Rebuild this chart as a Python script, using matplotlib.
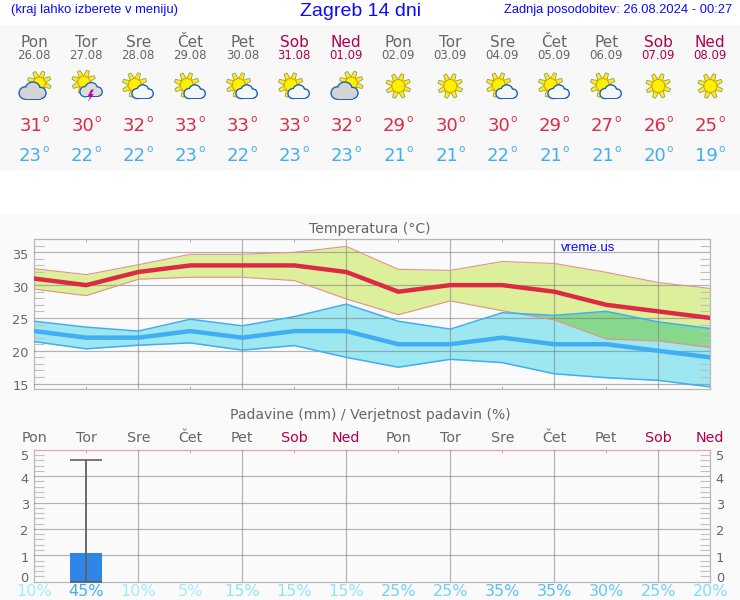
import matplotlib
matplotlib.use("Agg")
import matplotlib.pyplot as plt
import matplotlib.patches as mp
import matplotlib.transforms as mt
import numpy as np

days = ["Pon", "Tor", "Sre", "Čet", "Pet", "Sob", "Ned", "Pon", "Tor", "Sre", "Čet", "Pet", "Sob", "Ned"]
dates = ["26.08", "27.08", "28.08", "29.08", "30.08", "31.08", "01.09", "02.09", "03.09", "04.09", "05.09", "06.09", "07.09", "08.09"]
icons = ["pc", "st", "sc", "sc", "sc", "sc", "pc", "s", "s", "sc", "sc", "sc", "s", "s"]
t_max = [31, 30, 32, 33, 33, 33, 32, 29, 30, 30, 29, 27, 26, 25]
t_min = [23, 22, 22, 23, 22, 23, 23, 21, 21, 22, 21, 21, 20, 19]
max_upper = [32.5, 31.6, 33.1, 34.7, 34.7, 35.0, 35.9, 32.4, 32.25, 33.6, 33.3, 31.95, 30.4, 29.5]
max_lower = [29.4, 28.4, 30.9, 31.2, 31.2, 30.7, 27.9, 25.5, 27.6, 26.1, 24.7, 21.8, 21.5, 20.5]
min_upper = [24.5, 23.6, 23.0, 24.8, 23.8, 25.2, 27.1, 24.5, 23.3, 25.8, 25.4, 26.0, 24.4, 23.4]
min_lower = [21.4, 20.3, 20.85, 21.2, 20.1, 20.8, 19.0, 17.5, 18.7, 18.2, 16.5, 15.9, 15.5, 14.5]
rain = [0, 1.09, 0, 0, 0, 0, 0, 0, 0, 0, 0, 0, 0, 0]
rain_top = [0, 4.6, 0, 0, 0, 0, 0, 0, 0, 0, 0, 0, 0, 0]
prob = [10, 45, 10, 5, 15, 15, 15, 25, 25, 35, 35, 30, 25, 20]
temp_ticks = [15, 20, 25, 30, 35]
rain_ticks = [0, 1, 2, 3, 4, 5]

W, H = 740, 600
X0, STEP = 34.3, 52.0
GREY = "#666666"
WEEKEND = "#b0004f"
RED = "#dc2a44"
BLUE = "#41adf2"
HDR = "#0a0aff"
prob_col = {5: "#a6eef6", 10: "#a2ecf6", 15: "#90e4f6", 20: "#80dcf7", 25: "#6ed2f8",
            30: "#62c9f7", 35: "#55bff5", 45: "#45aef2"}
x = np.arange(14)


def axpx(l, t, r, b, **kw):
    return fig.add_axes([l / W, 1 - b / H, (r - l) / W, (b - t) / H], **kw)


fig = plt.figure(figsize=(W / 100, H / 100), dpi=100, facecolor="white")
bg = fig.add_axes([0, 0, 1, 1], zorder=0)
bg.set_xlim(0, W)
bg.set_ylim(H, 0)
bg.axis("off")
bg.add_patch(mp.Rectangle((0, 25), W, 145, fc="#f8f8f8", ec="none"))
bg.add_patch(mp.Rectangle((0, 214), W, 386, fc="#fafafa", ec="none"))

ov = fig.add_axes([0, 0, 1, 1], zorder=5)
ov.set_xlim(0, W)
ov.set_ylim(H, 0)
ov.axis("off")
ov.patch.set_alpha(0)

# header
ov.text(11, 9.5, "(kraj lahko izberete v meniju)", family="Liberation Sans", fontsize=9.4, color=HDR, ha="left", va="center")
ov.text(361, 11.5, "Zagreb 14 dni", family="Liberation Sans", fontsize=14, color=HDR, ha="center", va="center")
ov.text(732, 9.5, "Zadnja posodobitev: 26.08.2024 - 00:27", family="Liberation Sans", fontsize=9.3, color=HDR, ha="right", va="center")


def sun(cx, cy, r=6.5, z=3):
    n = 8
    for k in range(n):
        a = np.pi * 2 * k / n + 0.35
        d = np.array([np.cos(a), np.sin(a)])
        p = np.array([-d[1], d[0]])
        c = np.array([cx, cy])
        pts = [c + d * (r - 1) + p * 2.4, c + d * (r + 6) + p * 1.5, c + d * (r + 6) - p * 1.5, c + d * (r - 1) - p * 2.4]
        ov.add_patch(mp.Polygon(pts, closed=True, fc="#f7f020", ec="#9a9a58", lw=0.6, zorder=z))
    ov.add_patch(mp.Circle((cx, cy), r, fc="#fff200", ec="#e8a000", lw=0.8, zorder=z + 0.1))


def cloud(cx, cy, s=1.0, fill="#d8d8d8", z=4, edge=1.2):
    blobs = [(-7.5, 2, 5.5), (0, -1.5, 6.8), (7.5, 2, 5.0)]
    for dx, dy, r in blobs:
        ov.add_patch(mp.Circle((cx + dx * s, cy + dy * s), r * s + edge, fc="#1d62b4", ec="none", zorder=z))
    ov.add_patch(mp.Rectangle((cx - 8 * s, cy + 1 * s), 16 * s, 6.5 * s + edge, fc="#1d62b4", ec="none", zorder=z))
    for dx, dy, r in blobs:
        ov.add_patch(mp.Circle((cx + dx * s, cy + dy * s), r * s, fc=fill, ec="none", zorder=z + 0.1))
    ov.add_patch(mp.Rectangle((cx - 8 * s, cy + 1 * s), 16 * s, 6.5 * s, fc=fill, ec="none", zorder=z + 0.1))


def icon(kind, cx):
    if kind == "s":
        sun(cx, 86)
    elif kind == "sc":
        sun(cx - 3.5, 85)
        cloud(cx + 4.5, 92, 0.78, fill="#f4f6f8", edge=1.4)
    elif kind == "pc":
        sun(cx + 5, 83, r=6)
        cloud(cx - 1.5, 91, 1.0, fill="#d4d4d4", edge=1.4)
    elif kind == "st":
        sun(cx - 2.5, 82, r=6)
        cloud(cx + 5, 90, 0.82, fill="#dcdcdc", edge=1.3)
        ov.add_patch(mp.Polygon([(cx + 5, 89.5), (cx + 1.5, 96), (cx + 4, 96), (cx + 1.5, 102), (cx + 7.5, 94),
                                 (cx + 5, 94), (cx + 7.5, 89.5)], closed=True, fc="#c000c0", ec="none", zorder=6))


for i in range(14):
    cx = X0 + STEP * i
    c = WEEKEND if days[i] in ("Sob", "Ned") else GREY
    ov.text(cx, 42.5, days[i], fontsize=11, color=c, ha="center", va="center")
    ov.text(cx, 55.5, dates[i], fontsize=8.5, color=c, ha="center", va="center")
    icon(icons[i], cx)
    ov.text(cx + 7.8, 126, str(t_max[i]), fontsize=13, color=RED, ha="right", va="center")
    ov.text(cx + 8.5, 118.5, "o", fontsize=7.5, color=RED, ha="left", va="center")
    ov.text(cx + 7.8, 156, str(t_min[i]), fontsize=13, color=BLUE, ha="right", va="center")
    ov.text(cx + 8.5, 148.5, "o", fontsize=7.5, color=BLUE, ha="left", va="center")
    ov.text(cx, 437.5, days[i], fontsize=10.3, color=c, ha="center", va="center")
    ov.text(cx, 592, f"{prob[i]}%", fontsize=11.5, color=prob_col[prob[i]], ha="center", va="center")

ov.text(370, 229, "Temperatura (°C)", fontsize=10.1, color=GREY, ha="center", va="center")
ov.text(370, 415, "Padavine (mm) / Verjetnost padavin (%)", fontsize=10.05, color=GREY, ha="center", va="center")

SP = "#b8b8b8"
GRID = dict(color="#777777", lw=0.85, alpha=0.55)


def style(ax, minor_y):
    ax.patch.set_alpha(0)
    ax.set_xlim(0, 13)
    ax.set_axisbelow(False)
    ax.set_xticks(x[2::2])
    ax.set_xticks(x[1::2], minor=True)
    ax.set_xticklabels([])
    ax.set_yticks(minor_y, minor=True)
    ax.grid(True, which="major", **GRID)
    ax.tick_params(axis="x", which="major", length=0)
    ax.tick_params(axis="y", which="major", length=0, labelsize=9.3, labelcolor=GREY, pad=4, labelright=True, left=False, right=False)
    ax.tick_params(axis="y", which="minor", direction="in", length=7.2, width=0.8, color="#c0c0c0", left=True, right=True)
    for s in ax.spines.values():
        s.set_color(SP)
        s.set_linewidth(0.9)


# temperature
at = axpx(X0, 239.5, X0 + 13 * STEP, 389.2, zorder=2)
at.set_ylim(14.15, 36.95)
at.set_yticks(temp_ticks)
style(at, np.arange(15, 37))
at.tick_params(axis="x", which="minor", direction="in", length=2.5, width=0.8, color=SP, top=True, bottom=True)
hi_lo = np.array(max_lower)
lo_up = np.array(min_upper)
at.fill_between(x, max_lower, max_upper, color="#dcf09c", lw=0, zorder=1)
at.fill_between(x, min_lower, min_upper, color="#9de7f0", lw=0, zorder=1.1)
at.fill_between(x, hi_lo, lo_up, where=lo_up > hi_lo, interpolate=True, color="#87d78c", lw=0, zorder=1.2)
at.plot(x, max_upper, color="#e8908c", lw=0.8, zorder=2.8)
at.plot(x, max_lower, color="#e8908c", lw=0.8, zorder=2.8)
at.plot(x, min_upper, color=BLUE, lw=1.1, zorder=2.8)
at.plot(x, min_lower, color=BLUE, lw=1.1, zorder=2.8)
at.plot(x, t_min, color=BLUE, lw=3.2, zorder=3, solid_joinstyle="miter")
at.plot(x, t_max, color=RED, lw=3.2, zorder=3.1, solid_joinstyle="miter")
at.tick_params(axis="y", labelright=False)
shift = mt.ScaledTranslation(0, -1.5 / 100, fig.dpi_scale_trans)
for lab in at.get_yticklabels():
    lab.set_transform(lab.get_transform() + shift)
ov.text(561, 248, "vreme.us", family="Liberation Sans", fontsize=9.5, color=HDR, ha="left", va="center", zorder=10)

# precipitation
ap = axpx(X0, 449.7, X0 + 13 * STEP, 581.7, zorder=2)
ap.set_ylim(0, 5)
ap.set_yticks(rain_ticks)
style(ap, np.arange(0, 5.01, 0.2))
ap.spines["top"].set_color("#e8a0c0")
ap.tick_params(axis="x", which="minor", direction="in", length=2.5, width=0.8, color="#e8a0c0", top=True, bottom=False)
rain_arr = np.array(rain)
top_arr = np.array(rain_top)
wet = rain_arr > 0
ap.bar(x[wet], rain_arr[wet], width=0.61, color="#2f86e8", zorder=2.7, clip_on=True)
ap.errorbar(x[wet], rain_arr[wet], yerr=[rain_arr[wet], top_arr[wet] - rain_arr[wet]], fmt="none",
            ecolor="#5f5f5f", elinewidth=1.3, capsize=11.5, capthick=1.2, zorder=3)
offs = {0: 5.0, 1: -1.4, 2: -1.0, 3: -1.7, 4: -1.5, 5: -5.5}
for t, v in zip(ap.yaxis.get_major_ticks(), rain_ticks):
    off = mt.ScaledTranslation(0, offs[v] / 100, fig.dpi_scale_trans)
    t.label1.set_transform(t.label1.get_transform() + off)
    t.label2.set_transform(t.label2.get_transform() + off)
    if v in (0, 5):
        t.gridline.set_visible(False)

fig.savefig("out.png", dpi=100, facecolor="white")
